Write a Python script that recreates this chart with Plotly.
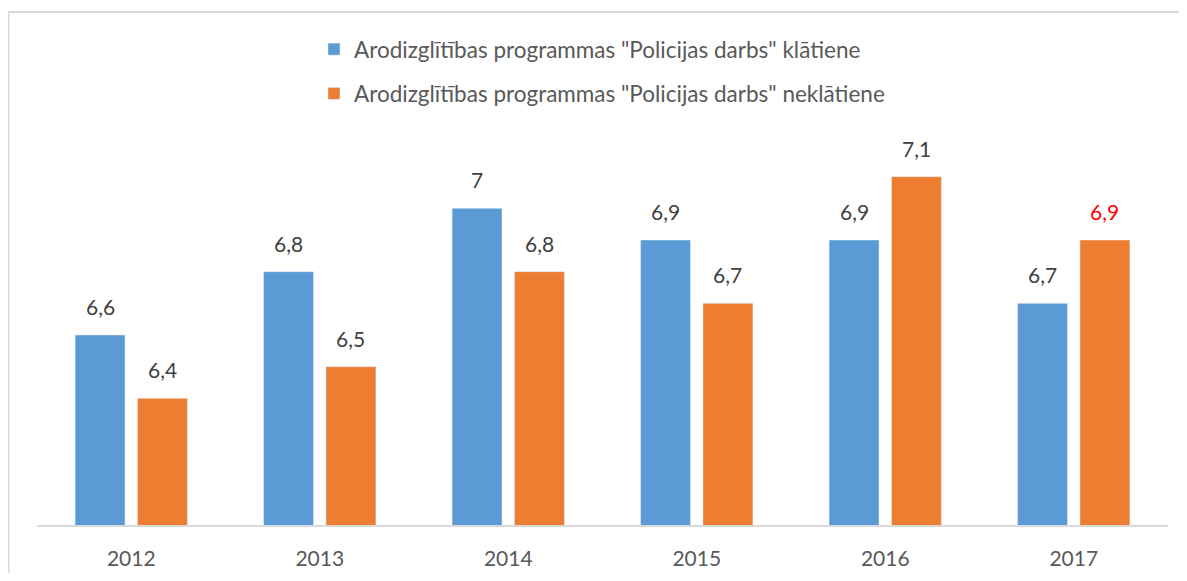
import plotly.graph_objects as go

years = ["2012", "2013", "2014", "2015", "2016", "2017"]
series1_name = 'Arodizglītības programmas "Policijas darbs" klātiene'
series2_name = 'Arodizglītības programmas "Policijas darbs" neklātiene'
series1 = [6.6, 6.8, 7.0, 6.9, 6.9, 6.7]
series2 = [6.4, 6.5, 6.8, 6.7, 7.1, 6.9]
label_colors2 = ["#404040", "#404040", "#404040", "#404040", "#404040", "#FF0000"]

BLUE = "#5B9BD5"
ORANGE = "#ED7D31"
FONT = "Lato, 'Open Sans', sans-serif"

# the page body adds an 8px offset; coordinates below are figure pixels
W, H = 1171, 565
ML, MR, MT, MB = 29, 11, 137, 48
PW = W - ML - MR
PH = H - MT - MB
BOTTOM = H - MB

def fmt(v):
    s = ("%g" % v)
    return s.replace(".", ",")

def px_x(p):
    return (p - ML) / PW

def px_y(p):
    return (BOTTOM - p) / PH

fig = go.Figure()
fig.add_trace(go.Bar(x=years, y=series1, name=series1_name, marker_color=BLUE,
                     legendgroup="a", hoverinfo="skip"))
fig.add_trace(go.Bar(x=years, y=series2, name=series2_name, marker_color=ORANGE,
                     legendgroup="b", hoverinfo="skip"))

slot_px = PW / len(years) * (1 - 0.338) / 2
annotations = []
for i, y in enumerate(years):
    # category axes place annotations by category index
    annotations.append(dict(x=i, y=series1[i], xref="x", yref="y", text=fmt(series1[i]),
                            showarrow=False, xshift=-slot_px / 2, yshift=14, yanchor="bottom",
                            font=dict(family=FONT, size=21, color="#404040")))
    annotations.append(dict(x=i, y=series2[i], xref="x", yref="y", text=fmt(series2[i]),
                            showarrow=False, xshift=slot_px / 2, yshift=14, yanchor="bottom",
                            font=dict(family=FONT, size=21, color=label_colors2[i])))

border = dict(color="#D9D9D9", width=2)
fig.update_layout(
    width=W, height=H,
    margin=dict(l=ML, r=MR, t=MT, b=MB, autoexpand=False),
    paper_bgcolor="white", plot_bgcolor="white",
    barmode="group", bargap=0.338, bargroupgap=0.2,
    font=dict(family=FONT, color="#595959", size=21),
    showlegend=True,
    legend=dict(orientation="v", x=px_x(306), xanchor="left",
                y=px_y(20), yanchor="top", yref="paper",
                font=dict(family=FONT, size=22.5, color="#595959"),
                tracegroupgap=12, itemwidth=30, bgcolor="rgba(0,0,0,0)"),
    annotations=annotations,
    shapes=[
        dict(type="line", xref="paper", yref="paper",
             x0=px_x(0.5), x1=px_x(0.5), y0=px_y(H + 20), y1=px_y(4), line=border),
        dict(type="line", xref="paper", yref="paper",
             x0=px_x(0.5), x1=px_x(W + 20), y0=px_y(4), y1=px_y(4), line=border),
    ],
)
fig.update_xaxes(type="category", range=[-0.5, len(years) - 0.5], showline=True,
                 linecolor="#D9D9D9", linewidth=2, showgrid=False,
                 ticks="outside", ticklen=14, tickcolor="rgba(0,0,0,0)",
                 tickfont=dict(family=FONT, size=21, color="#595959"))
fig.update_yaxes(range=[6.0, 7.2], visible=False, showgrid=False, zeroline=False)

fig.write_html("out.html")
